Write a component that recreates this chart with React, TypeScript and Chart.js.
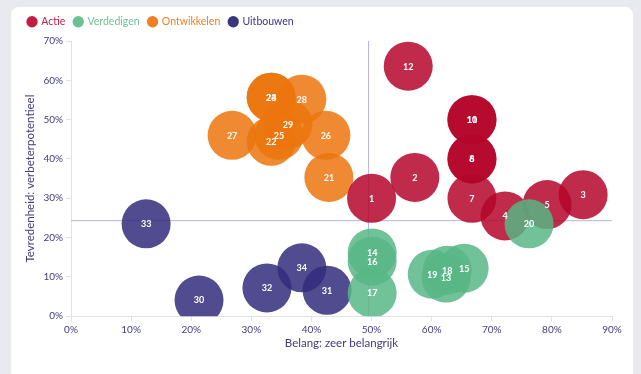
import React, { useEffect, useRef } from "react";
import { Chart, registerables } from "chart.js";

Chart.register(...registerables);

// ---- data ----
const seriesNames = ["Actie", "Verdedigen", "Ontwikkelen", "Uitbouwen"];

const actieIds = [1, 2, 3, 4, 5, 6, 7, 8, 10, 11, 12];
const actieBelang = [50, 57.2, 85.2, 72.2, 79.2, 66.7, 66.7, 66.7, 66.7, 66.7, 56.1];
const actieTevredenheid = [30, 35.3, 30.9, 25.5, 28.4, 40, 30, 40, 50, 50, 63.6];

const verdedigenIds = [13, 14, 15, 16, 17, 18, 19, 20];
const verdedigenBelang = [62.4, 50.1, 65.4, 50.1, 50.1, 62.6, 60.1, 76.2];
const verdedigenTevredenheid = [9.7, 16.1, 12.2, 14.0, 5.9, 11.7, 10.7, 23.5];

const ontwikkelenIds = [21, 22, 23, 24, 25, 26, 27, 28, 29];
const ontwikkelenBelang = [42.9, 33.3, 33.3, 33.3, 34.6, 42.4, 26.8, 38.4, 36.1];
const ontwikkelenTevredenheid = [35.3, 44.5, 55.7, 55.7, 46.0, 46.0, 46.0, 55.2, 48.8];

const uitbouwenIds = [30, 31, 32, 33, 34];
const uitbouwenBelang = [21.3, 42.6, 32.6, 12.5, 38.4];
const uitbouwenTevredenheid = [4.1, 6.6, 7.2, 23.5, 12.3];

const meanBelang = 49.5;
const meanTevredenheid = 24.3;

const xTicks = [0, 10, 20, 30, 40, 50, 60, 70, 80, 90];
const yTicks = [0, 10, 20, 30, 40, 50, 60, 70];

const xTitle = "Belang: zeer belangrijk";
const yTitle = "Tevredenheid: verbeterpotentieel";

// ---- styles ----
const fills = [
  "rgba(181,6,44,0.85)",
  "rgba(88,183,134,0.85)",
  "rgba(236,118,14,0.85)",
  "rgba(50,45,125,0.85)",
];
const legendText = ["#c01d44", "#6cc096", "#f07f22", "#3b367f"];
const navy = "#3f3b7d";
const refLine = "#b8b5de";
const axisGray = "#e2e2e6";
const BUBBLE_R = 24.5;

function toPoints(xs: number[], ys: number[]) {
  return xs.map((x, i) => ({ x, y: ys[i], r: BUBBLE_R }));
}

const idLists = [actieIds, verdedigenIds, ontwikkelenIds, uitbouwenIds];

const bubbleLabels = {
  id: "bubbleLabels",
  afterDatasetsDraw(chart: any) {
    const ctx = chart.ctx;
    ctx.save();
    ctx.fillStyle = "#ffffff";
    ctx.font = "bold 9px Lato";
    ctx.textAlign = "center";
    ctx.textBaseline = "middle";
    chart.data.datasets.forEach((ds: any, di: number) => {
      if (ds.type !== "bubble") return;
      const ids = idLists[ds.seriesIndex];
      const meta = chart.getDatasetMeta(di);
      meta.data.forEach((el: any, i: number) => {
        ctx.fillText(String(ids[i]), el.x, el.y + 0.5);
      });
    });
    ctx.restore();
  },
};

const legendSpacer = {
  id: "legendSpacer",
  beforeLayout(chart: any) {
    const lg = chart.legend;
    if (lg && !lg.__patched) {
      const orig = lg.fit.bind(lg);
      lg.fit = function () {
        orig();
        this.height += 4;
      };
      lg.__patched = true;
    }
  },
};

export default function App() {
  const ref = useRef<HTMLCanvasElement | null>(null);

  useEffect(() => {
    if (!ref.current) return;
    const series = [
      { xs: actieBelang, ys: actieTevredenheid, order: 1 },
      { xs: verdedigenBelang, ys: verdedigenTevredenheid, order: 0 },
      { xs: ontwikkelenBelang, ys: ontwikkelenTevredenheid, order: 2 },
      { xs: uitbouwenBelang, ys: uitbouwenTevredenheid, order: 3 },
    ];
    const datasets: any[] = series.map((s, i) => ({
      type: "bubble",
      label: seriesNames[i],
      seriesIndex: i,
      data: toPoints(s.xs, s.ys),
      backgroundColor: fills[i],
      borderWidth: 0,
      hoverRadius: 0,
      order: s.order,
    }));
    datasets.push({
      type: "line",
      label: "vline",
      data: [
        { x: meanBelang, y: 0 },
        { x: meanBelang, y: 70 },
      ],
      borderColor: refLine,
      borderWidth: 1,
      pointRadius: 0,
      order: 10,
    });
    datasets.push({
      type: "line",
      label: "hline",
      data: [
        { x: 0, y: meanTevredenheid },
        { x: 90, y: meanTevredenheid },
      ],
      borderColor: refLine,
      borderWidth: 1,
      pointRadius: 0,
      order: 10,
    });

    const chart = new Chart(ref.current, {
      type: "bubble",
      data: { datasets },
      plugins: [bubbleLabels, legendSpacer],
      options: {
        animation: false,
        responsive: false,
        devicePixelRatio: 1,
        events: [],
        layout: { padding: { left: 19, top: 7.5, right: 29, bottom: 22 } },
        plugins: {
          tooltip: { enabled: false },
          legend: {
            display: true,
            position: "top",
            align: "start",
            labels: {
              usePointStyle: true,
              boxWidth: 8,
              boxHeight: 8,
              padding: 9,
              font: { family: "Lato", size: 10.5 },
              generateLabels: () =>
                seriesNames.map((name, i) => ({
                  text: name,
                  fillStyle: legendText[i],
                  strokeStyle: legendText[i],
                  lineWidth: 0,
                  pointStyle: "circle",
                  fontColor: legendText[i],
                  hidden: false,
                  datasetIndex: i,
                })),
            },
          },
        },
        scales: {
          x: {
            type: "linear",
            min: 0,
            max: 90,
            afterBuildTicks: (scale: any) => {
              scale.ticks = xTicks.map((v) => ({ value: v }));
            },
            ticks: {
              color: navy,
              font: { family: "Lato", size: 10 },
              padding: 3,
              callback: (v: any) => v + "%",
            },
            grid: {
              drawOnChartArea: false,
              drawTicks: true,
              tickLength: 5,
              color: axisGray,
            },
            border: { display: true, color: axisGray },
            title: {
              display: true,
              text: xTitle,
              color: navy,
              font: { family: "Lato", size: 11.5 },
              padding: { top: -3, bottom: 2 },
            },
          },
          y: {
            type: "linear",
            min: 0,
            max: 70,
            afterBuildTicks: (scale: any) => {
              scale.ticks = yTicks.map((v) => ({ value: v }));
            },
            afterFit: (scale: any) => {
              scale.width = 52;
            },
            ticks: {
              color: navy,
              font: { family: "Lato", size: 10 },
              padding: 3,
              callback: (v: any) => v + "%",
            },
            grid: {
              drawOnChartArea: false,
              drawTicks: true,
              tickLength: 5,
              color: axisGray,
            },
            border: { display: true, color: axisGray },
            title: {
              display: true,
              text: yTitle,
              color: navy,
              font: { family: "Lato", size: 11.5 },
              padding: { top: 4, bottom: 4 },
            },
          },
        },
      } as any,
    });
    return () => chart.destroy();
  }, []);

  return (
    <div
      style={{
        position: "fixed",
        left: 0,
        top: 0,
        width: 641,
        height: 374,
        background: "#e9eaef",
        overflow: "hidden",
      }}
    >
      <div
        style={{
          position: "absolute",
          left: 11,
          top: 7,
          width: 622,
          height: 420,
          background: "#ffffff",
          borderRadius: 8,
        }}
      />
      <canvas
        ref={ref}
        width={641}
        height={374}
        style={{ position: "absolute", left: 0, top: 0, width: 641, height: 374 }}
      />
    </div>
  );
}
